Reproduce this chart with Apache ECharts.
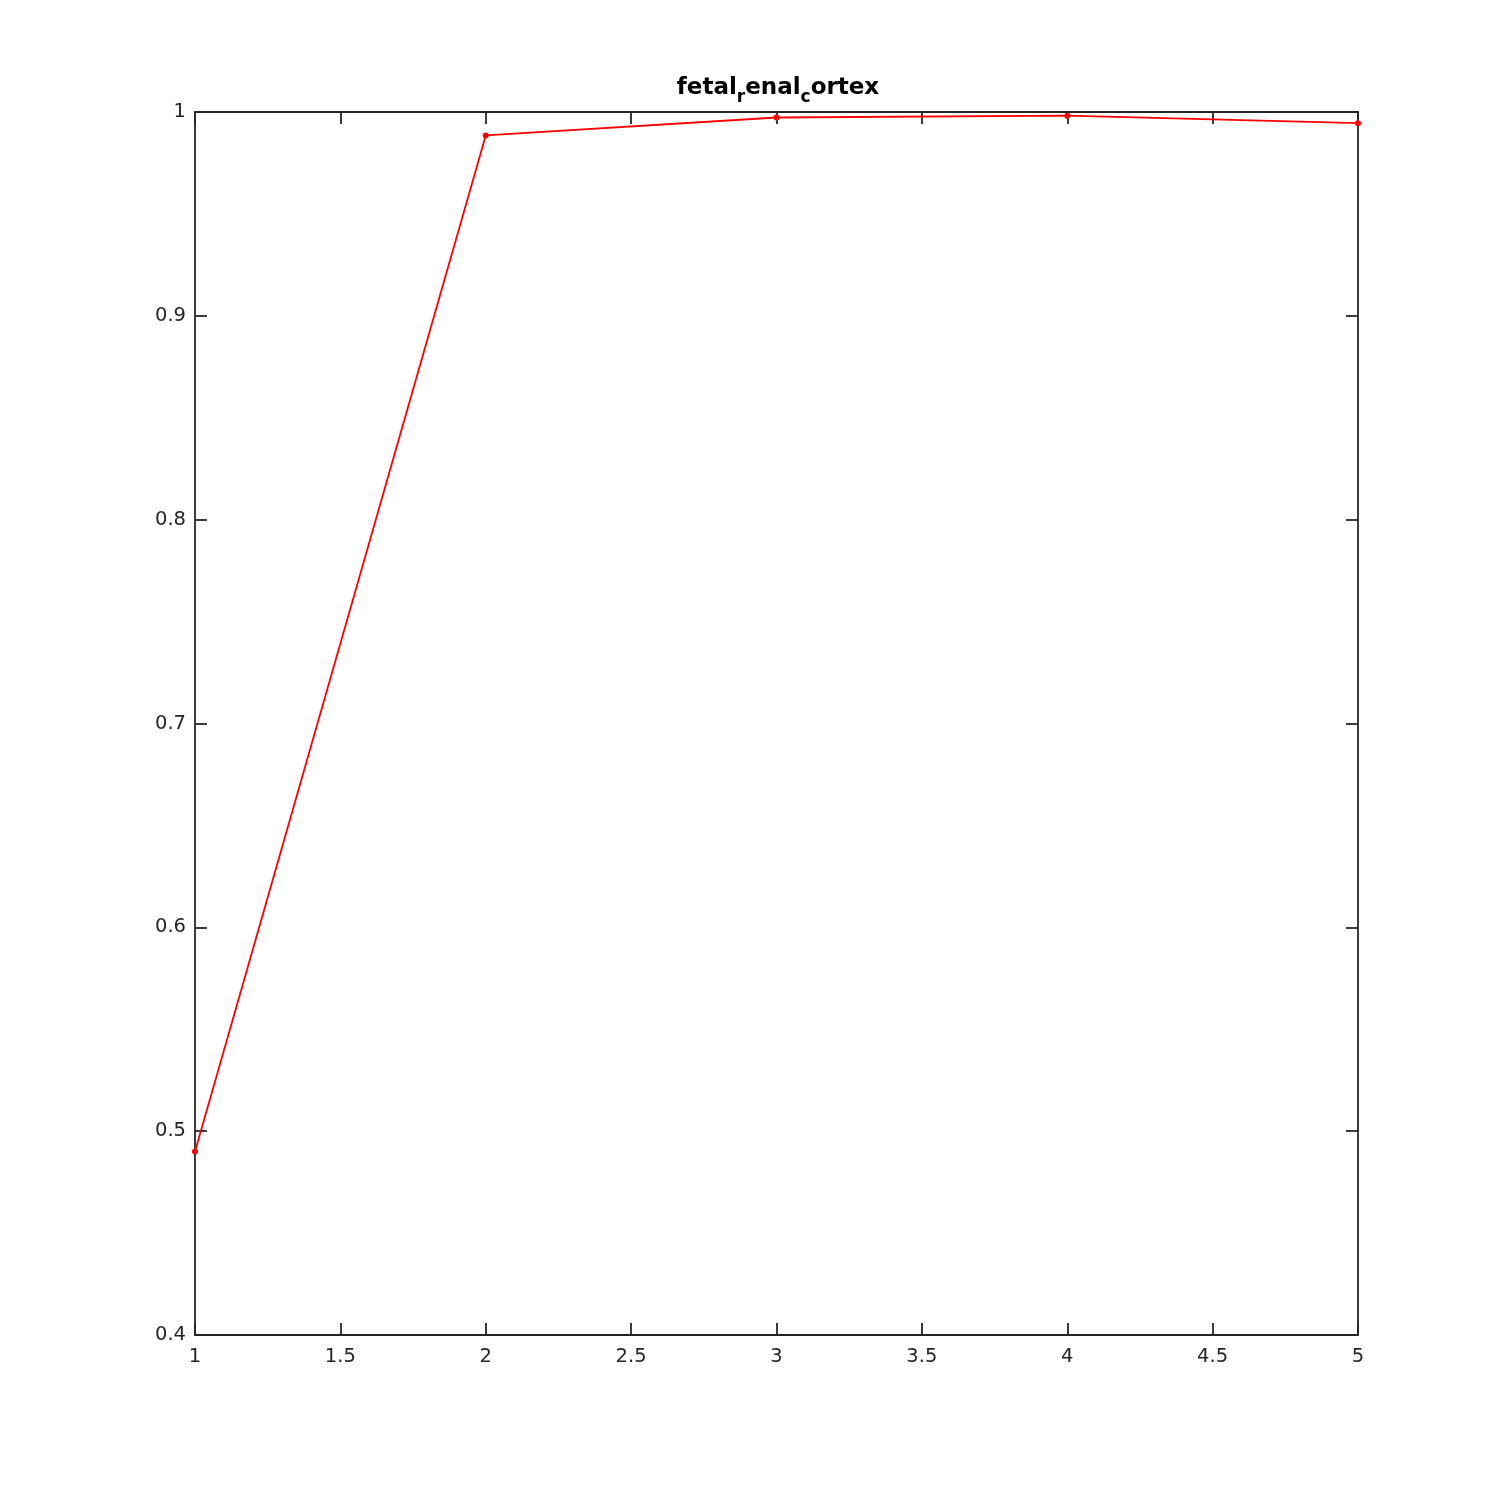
<!DOCTYPE html>
<html><head><meta charset="utf-8">
<script src="https://cdn.jsdelivr.net/npm/echarts@6/dist/echarts.min.js"></script>
<style>html,body{margin:0;padding:0;background:#fff}#c{width:1500px;height:1500px}</style>
</head><body><div id="c"></div>
<script>
const xValues = [1, 2, 3, 4, 5];
const yValues = [0.490, 0.9885, 0.9973, 0.9982, 0.9945];
const titleParts = ['fetal', 'r', 'enal', 'c', 'ortex'];

const chart = echarts.init(document.getElementById('c'));
const axisColor = '#262626';
const font = 'DejaVu Sans';
const common = {
  axisLine: {show: true, lineStyle: {color: axisColor, width: 1.8}},
  axisTick: {show: true, inside: true, length: 12, lineStyle: {color: axisColor, width: 1.8}},
  splitLine: {show: false}
};
chart.setOption({
  backgroundColor: '#fff',
  animation: false,
  title: {
    text: '{m|' + titleParts[0] + '}{s|' + titleParts[1] + '}{m|' + titleParts[2] + '}{s|' + titleParts[3] + '}{m|' + titleParts[4] + '}',
    left: 773, top: 69, textAlign: 'center',
    textStyle: {
      rich: {
        m: {fontFamily: font, fontWeight: 'bold', fontSize: 23, color: '#000', lineHeight: 28},
        s: {fontFamily: font, fontWeight: 'bold', fontSize: 17, color: '#000', padding: [20, 0, 0, 0], lineHeight: 28}
      }
    }
  },
  grid: {left: 195, right: 142, top: 112, bottom: 165, containLabel: false},
  xAxis: [
    Object.assign({type: 'value', min: 1, max: 5, interval: 0.5, position: 'bottom',
      axisLabel: {fontFamily: font, fontSize: 19.5, color: axisColor, margin: 12}}, common),
    Object.assign({type: 'value', min: 1, max: 5, interval: 0.5, position: 'top',
      axisLabel: {show: false}}, common)
  ],
  yAxis: [
    Object.assign({type: 'value', min: 0.4, max: 1, interval: 0.1, position: 'left',
      axisLabel: {fontFamily: font, fontSize: 19.5, color: axisColor, margin: 9}}, common),
    Object.assign({type: 'value', min: 0.4, max: 1, interval: 0.1, position: 'right',
      axisLabel: {show: false}}, common)
  ],
  series: [{
    type: 'line',
    data: xValues.map((x, i) => [x, yValues[i]]),
    symbol: 'circle', symbolSize: 6,
    lineStyle: {color: '#ff0000', width: 1.8},
    itemStyle: {color: '#ff0000'},
    clip: false
  }]
});
</script></body></html>
